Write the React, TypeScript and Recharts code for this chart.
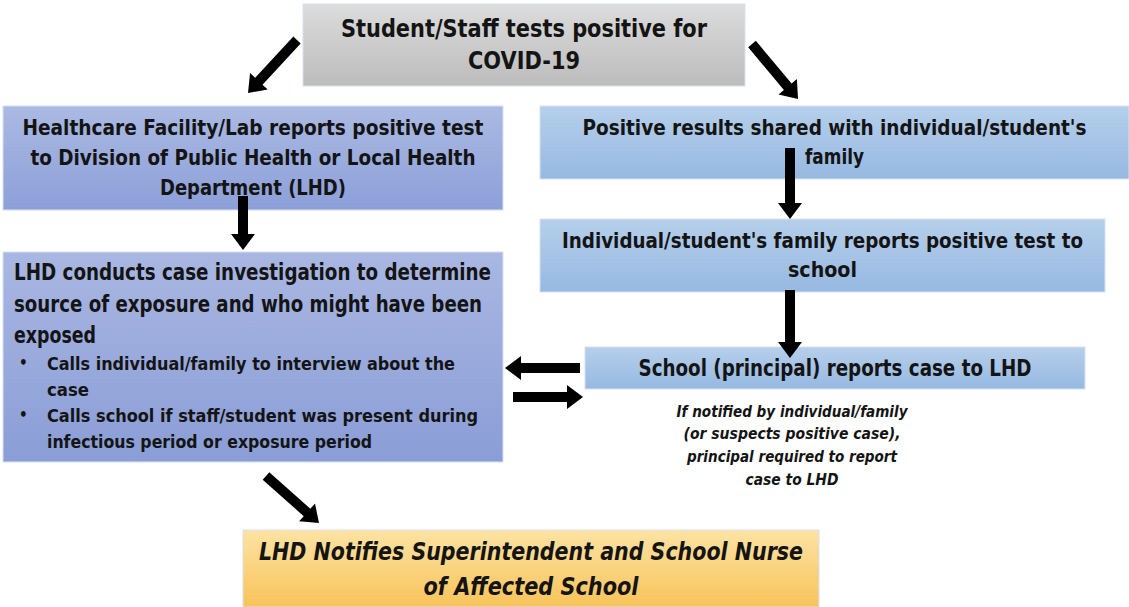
import React from 'react';
import { ComposedChart, XAxis, YAxis, ReferenceArea, ReferenceLine } from 'recharts';

const W = 1129;
const H = 607;
const FONT = '"DejaVu Sans Condensed", "Liberation Sans", Arial, sans-serif';

// text content of the flow
const startLines = ['Student/Staff tests positive for', 'COVID-19'];
const labLines = [
	'Healthcare Facility/Lab reports positive test',
	'to Division of Public Health or Local Health',
	'Department (LHD)',
];
const sharedLines = ["Positive results shared with individual/student's", 'family'];
const familyLines = ["Individual/student's family reports positive test to", 'school'];
const lhdLines = [
	'LHD conducts case investigation to determine',
	'source of exposure and who might have been',
	'exposed',
];
const lhdBullets = [
	['Calls individual/family  to interview about the', 'case'],
	['Calls school if staff/student  was present during', 'infectious period or exposure period'],
];
const schoolLines = ['School (principal) reports case to LHD'];
const noteLines = [
	'If notified by individual/family',
	'(or suspects positive case),',
	'principal required to report',
	'case to LHD',
];
const notifyLines = ['LHD Notifies Superintendent and School Nurse', 'of Affected School'];

// layout in chart units (1 unit = 1px); fit = rendered text widths
const boxLayout = [
	{ id: 'start', x1: 303, x2: 745, y1: 4, y2: 86, lines: startLines, fit: [366, 112], top: '#dcdcdc', bottom: '#bcbcbc', size: 24, gap: 32 },
	{ id: 'lab', x1: 3, x2: 503, y1: 106, y2: 210, lines: labLines, fit: [461, 445, 186], top: '#abbae3', bottom: '#8c9fd8', size: 21, gap: 30 },
	{ id: 'shared', x1: 540, x2: 1129, y1: 106, y2: 179, lines: sharedLines, fit: [504, 59], top: '#b6cfeb', bottom: '#96b9e1', size: 21, gap: 29 },
	{ id: 'family', x1: 540, x2: 1105, y1: 219, y2: 292, lines: familyLines, fit: [521, 69], top: '#b6cfeb', bottom: '#96b9e1', size: 21, gap: 29 },
	{ id: 'school', x1: 585, x2: 1085, y1: 347, y2: 389, lines: schoolLines, fit: [393], top: '#b6cfeb', bottom: '#96b9e1', size: 23, gap: 28 },
	{ id: 'notify', x1: 243, x2: 819, y1: 530, y2: 607, lines: notifyLines, fit: [544, 215], top: '#fde3a4', bottom: '#f8c35a', size: 25, gap: 35, italic: true },
];

const lhdBox = { x1: 3, x2: 503, y1: 252, y2: 462, top: '#a9b7e2', bottom: '#8a9dd6' };
const lhdFit = [477, 468, 82];
const bulletFit = [408, 42, 431, 325];
const noteBox = { x1: 692, x2: 892, y1: 411, y2: 480 };
const noteFit = [231, 217, 210, 93];

const arrowLayout = [
	{ from: [297, 40], to: [248, 93] },
	{ from: [752, 44], to: [798, 99] },
	{ from: [243, 196], to: [243, 250] },
	{ from: [790, 148], to: [790, 219] },
	{ from: [790, 290], to: [790, 358] },
	{ from: [580, 368], to: [505, 368] },
	{ from: [513, 397], to: [583, 397] },
	{ from: [266, 476], to: [319, 523] },
];

const GradRect = ({ id, x, y, width, height, top, bottom }: any) => (
	<>
		<defs>
			<linearGradient id={`g-${id}`} x1='0' y1='0' x2='0' y2='1'>
				<stop offset='0%' stopColor={top} />
				<stop offset='100%' stopColor={bottom} />
			</linearGradient>
		</defs>
		<rect x={x} y={y} width={width} height={height} fill={`url(#g-${id})`} stroke='#d6e0f2' strokeWidth={1} />
	</>
);

const Line = ({ x, y, t, fit, size, italic, anchor = 'middle' }: any) => (
	<text
		x={x}
		y={y}
		textAnchor={anchor}
		dominantBaseline='central'
		fontFamily={FONT}
		fontWeight='bold'
		fontStyle={italic ? 'italic' : 'normal'}
		fontSize={size}
		fill='#141414'
		textLength={fit}
		lengthAdjust='spacingAndGlyphs'
	>
		{t}
	</text>
);

const makeBox = (cfg: any) => (props: any) => {
	const { x, y, width, height } = props;
	const cx = x + width / 2;
	const cy = y + height / 2;
	const n = cfg.lines.length;
	return (
		<g>
			<GradRect id={cfg.id} x={x} y={y} width={width} height={height} top={cfg.top} bottom={cfg.bottom} />
			{cfg.lines.map((t: string, i: number) => (
				<Line key={i} x={cx} y={cy + (i - (n - 1) / 2) * cfg.gap} t={t} fit={cfg.fit[i]} size={cfg.size} italic={cfg.italic} />
			))}
		</g>
	);
};

const LhdShape = (props: any) => {
	const { x, y, width, height } = props;
	const rows: any[] = [];
	lhdBullets.forEach((b, bi) => {
		b.forEach((t, li) => rows.push({ t, bullet: li === 0, key: `${bi}-${li}` }));
	});
	return (
		<g>
			<GradRect id='lhd' x={x} y={y} width={width} height={height} top={lhdBox.top} bottom={lhdBox.bottom} />
			{lhdLines.map((t, i) => (
				<Line key={t} x={x + 11} y={y + 20 + i * 31.5} t={t} fit={lhdFit[i]} size={23} anchor='start' />
			))}
			{rows.map((r, i) => (
				<g key={r.key}>
					{r.bullet && (
						<text x={x + 16} y={y + 111 + i * 26} dominantBaseline='central' fontFamily={FONT} fontWeight='bold' fontSize={15} fill='#141414'>
							•
						</text>
					)}
					<Line x={x + 44} y={y + 111 + i * 26} t={r.t} fit={bulletFit[i]} size={18} anchor='start' />
				</g>
			))}
		</g>
	);
};

const ArrowShape = (props: any) => {
	const { x1, y1, x2, y2 } = props;
	const dx = x2 - x1;
	const dy = y2 - y1;
	const len = Math.hypot(dx, dy) || 1;
	const ux = dx / len;
	const uy = dy / len;
	const nx = -uy;
	const ny = ux;
	const s = 5;
	const h = 12;
	const hl = 16;
	const bx = x2 - ux * hl;
	const by = y2 - uy * hl;
	const pts = [
		[x1 + nx * s, y1 + ny * s],
		[bx + nx * s, by + ny * s],
		[bx + nx * h, by + ny * h],
		[x2, y2],
		[bx - nx * h, by - ny * h],
		[bx - nx * s, by - ny * s],
		[x1 - nx * s, y1 - ny * s],
	];
	return <polygon points={pts.map((p) => p.join(',')).join(' ')} fill='#000' />;
};

const NoteShape = (props: any) => {
	const { x, y, width } = props;
	const cx = x + width / 2;
	return (
		<g>
			{noteLines.map((t, i) => (
				<Line key={t} x={cx} y={y + i * 22.7} t={t} fit={noteFit[i]} size={16} italic />
			))}
		</g>
	);
};

export default function App() {
	return (
		<div style={{ width: W, height: H, background: '#fff' }}>
			<style>{'body{margin:0;}'}</style>
			<ComposedChart width={W} height={H} data={[]} margin={{ top: 0, right: 0, bottom: 0, left: 0 }}>
				<XAxis type='number' dataKey='x' domain={[0, W]} allowDataOverflow hide />
				<YAxis type='number' domain={[0, H]} reversed allowDataOverflow hide />
				{boxLayout.map((b) => (
					<ReferenceArea key={b.id} x1={b.x1} x2={b.x2} y1={b.y1} y2={b.y2} ifOverflow='visible' shape={makeBox(b)} />
				))}
				<ReferenceArea x1={lhdBox.x1} x2={lhdBox.x2} y1={lhdBox.y1} y2={lhdBox.y2} ifOverflow='visible' shape={LhdShape} />
				<ReferenceArea x1={noteBox.x1} x2={noteBox.x2} y1={noteBox.y1} y2={noteBox.y2} ifOverflow='visible' shape={NoteShape} />
				{arrowLayout.map((a, i) => (
					<ReferenceLine
						key={i}
						segment={[{ x: a.from[0], y: a.from[1] }, { x: a.to[0], y: a.to[1] }]}
						ifOverflow='visible'
						shape={ArrowShape}
					/>
				))}
			</ComposedChart>
		</div>
	);
}
